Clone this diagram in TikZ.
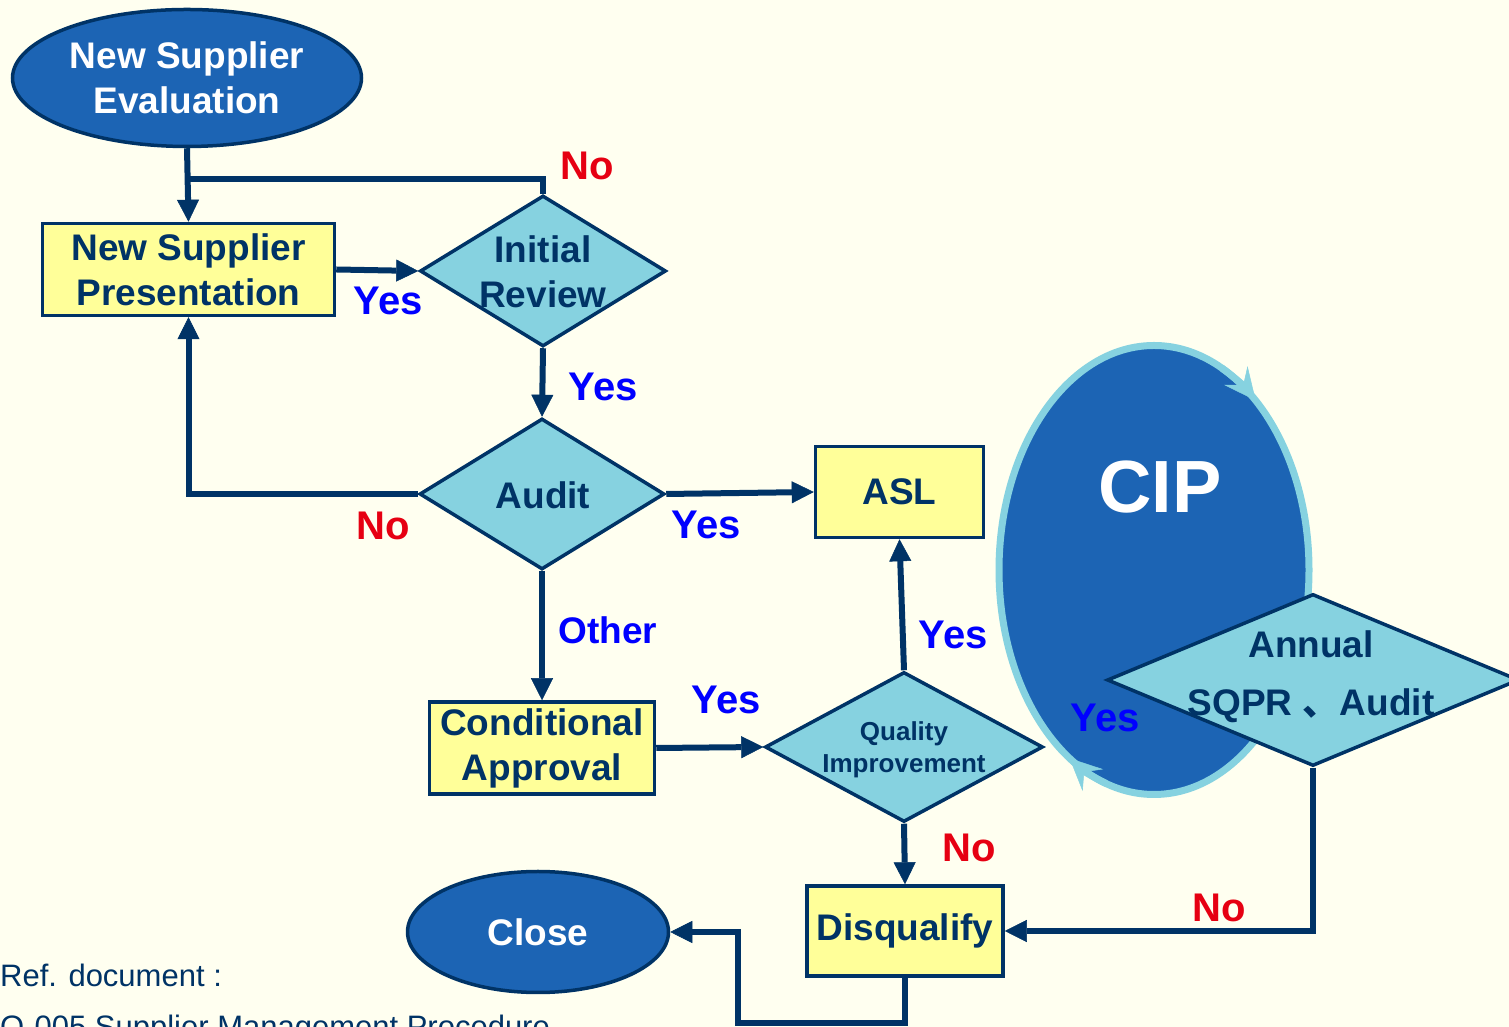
\documentclass[tikz,border=0pt]{standalone}
\usepackage{fontspec}
\setmainfont{Liberation Sans}
\newfontfamily\cjkfnt{Noto Sans CJK SC}
\usetikzlibrary{shapes.geometric,arrows.meta}
\definecolor{bgcol}{RGB}{255,255,240}
\definecolor{navy}{RGB}{0,51,102}
\definecolor{fillblue}{RGB}{28,100,180}
\definecolor{lcyan}{RGB}{134,210,224}
\definecolor{lyellow}{RGB}{255,255,153}
\definecolor{lred}{RGB}{230,0,18}
\definecolor{lblue}{RGB}{0,0,255}
\newcommand\mybigfont{\fontsize{37}{45}\selectfont\bfseries}
\newcommand\mylabfont{\fontsize{40}{48}\selectfont\bfseries}
\begin{document}
\begin{tikzpicture}[x=1pt,y=1pt,
  term/.style={ellipse, draw=navy, line width=3.5pt, fill=fillblue, text=white, font=\mybigfont, align=center, inner sep=0pt},
  proc/.style={rectangle, draw=navy, line width=3.5pt, fill=lyellow, text=navy, font=\mybigfont, align=center, inner sep=0pt},
  dec/.style={diamond, draw=navy, line width=3.5pt, fill=lcyan, inner sep=0pt},
  dectext/.style={text=navy, font=\mybigfont, align=center, inner sep=0pt},
  conn/.style={draw=navy, line width=6pt, line join=miter},
  arr/.style={conn, -{Triangle[length=22pt,width=22pt,line width=0.5pt]}},
  yeslab/.style={text=lblue, font=\mylabfont, inner sep=0pt},
  nolab/.style={text=lred, font=\mylabfont, inner sep=0pt},
  cipar/.style={draw=lcyan, line width=7pt, -{Stealth[length=32pt,width=30pt,inset=12pt,line width=0.5pt]}}
]
\path[use as bounding box, fill=bgcol] (0,0) rectangle (1509,1027);

% CIP cycle
\node[ellipse, draw=lcyan, line width=7pt, fill=fillblue, minimum width=310pt, minimum height=449pt, inner sep=0pt] (cip) at (1154,457) {};
\node[text=white, font=\fontsize{74}{80}\selectfont\bfseries, inner sep=0pt] (ciptext) at (1160,540) {CIP};
\draw[cipar] ([shift={(64:155 and 224.5)}]cip.center) arc[start angle=64, end angle=49, x radius=155, y radius=224.5];
\draw[cipar] ([shift={(252:155 and 224.5)}]cip.center) arc[start angle=252, end angle=237, x radius=155, y radius=224.5];

% nodes
\node[term, minimum width=349pt, minimum height=137pt] (eval) at (187,949) {New Supplier\\Evaluation};
\node[proc, minimum width=292pt, minimum height=92pt] (pres) at (188.5,757.5) {New Supplier\\Presentation};
\node[dec, minimum width=246pt, minimum height=151pt] (init) at (543,756) {};
\node[dectext] (inittext) at (543,755) {Initial\\Review};
\node[dec, minimum width=245pt, minimum height=151pt] (audit) at (542,533) {};
\node[dectext] (audittext) at (543,532) {Audit};
\node[proc, minimum width=168pt, minimum height=91pt] (asl) at (899.5,535) {ASL};
\node[proc, minimum width=225pt, minimum height=92pt] (cond) at (542,279) {Conditional\\Approval};
\node[dec, minimum width=278pt, minimum height=150pt] (qi) at (904,280) {};
\node[dectext, font=\fontsize{26}{32}\selectfont\bfseries] (qitext) at (904,277) {Quality\\Improvement};
\node[dec, minimum width=412pt, minimum height=172pt] (ann) at (1313,347) {};
\node[dectext, font=\fontsize{37}{58}\selectfont\bfseries] (anntext) at (1311,350) {Annual\\SQPR {\cjkfnt 、}Audit};
\node[proc, minimum width=196pt, minimum height=90pt] (disq) at (905,96) {Disqualify};
\node[term, minimum width=261pt, minimum height=121pt] (close) at (538,95) {Close};

% connectors
\coordinate (j) at (187,848);
\coordinate (b1) at (738,4);
\draw[arr] (eval.south) -- (pres.north);
\draw[conn] (init.north) |- (j);
\draw[arr] (pres.east) -- (init.west);
\draw[arr] (init.south) -- (audit.north);
\draw[arr] (audit.west) -| (pres.south);
\draw[arr] (audit.east) -- (asl.west);
\draw[arr] (audit.south) -- (cond.north);
\draw[arr] (cond.east) -- (qi.west);
\draw[arr] (qi.north) -- (asl.south);
\draw[arr] (qi.south) -- (disq.north);
\draw[arr] (ann.south) |- (disq.east);
\draw[arr] (disq.south) |- (b1) |- (close.east);

% labels
\node[nolab] (l1) at (587,861) {No};
\node[yeslab] (l2) at (388,726) {Yes};
\node[yeslab] (l3) at (603,640) {Yes};
\node[nolab] (l4) at (383,501) {No};
\node[yeslab] (l5) at (706,502) {Yes};
\node[yeslab, font=\fontsize{37}{45}\selectfont\bfseries] (l6) at (608,397) {Other};
\node[yeslab] (l7) at (953,392) {Yes};
\node[yeslab] (l8) at (726,327) {Yes};
\node[yeslab] (l9) at (1105,309) {Yes};
\node[nolab] (l10) at (969,179) {No};
\node[nolab] (l11) at (1219,119) {No};

% reference
\node[anchor=west, text=navy, font=\fontsize{31}{37}\selectfont, inner sep=0pt] (ref) at (0,52) {Ref. document :};
\node[anchor=base west, text=navy, font=\fontsize{31}{37}\selectfont, inner sep=0pt] (ref2) at (0,-11) {Q-005 Supplier Management Procedure};
\end{tikzpicture}
\end{document}
